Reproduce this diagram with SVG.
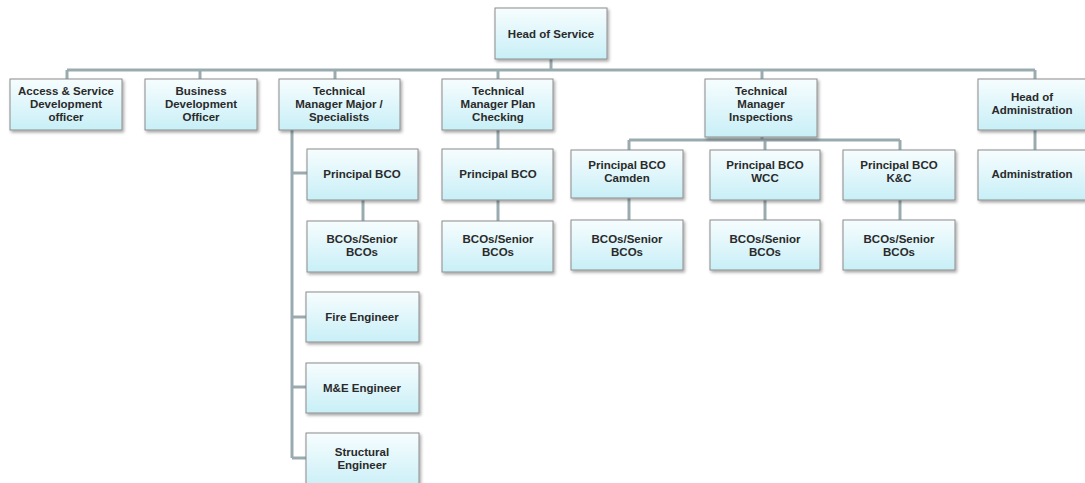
<svg xmlns="http://www.w3.org/2000/svg" width="1085" height="483" viewBox="0 0 1085 483">
<defs>
<linearGradient id="g" x1="0" y1="0" x2="0" y2="1">
<stop offset="0" stop-color="#f7fdfe"/>
<stop offset="1" stop-color="#c8eff7"/>
</linearGradient>
<filter id="sh" x="-10%" y="-10%" width="130%" height="140%">
<feDropShadow dx="1.5" dy="2" stdDeviation="1.5" flood-color="#000" flood-opacity="0.35"/>
</filter>
<style>
.b{fill:url(#g);stroke:#8c8c8c;stroke-width:1;filter:url(#sh)}
.t{font-family:"Liberation Sans",Arial,sans-serif;font-weight:bold;font-size:11.5px;fill:#2a2a2a;text-anchor:middle}
.c{stroke:#9aabb0;stroke-width:3;fill:none}
</style>
</defs>
<rect width="1085" height="483" fill="#ffffff"/>
<g id="connectors">
<path class="c" d="M551 59V70M67 70H1035M67 70V79M200 70V79M335 70V79M498 70V79M762 70V79M1035 70V79"/>
<path class="c" d="M292 130V458M292 173H307M292 317H306M292 387H306M292 458H306M363 200V221"/>
<path class="c" d="M498 130V149M498 200V221"/>
<path class="c" d="M762 137V140M629 140H900M629 140V150M765 140V150M900 140V150M629 198V220M765 200V220M900 200V220"/>
<path class="c" d="M1035 130V150"/>
</g>
<g id="head-of-service"><rect class="b" x="495" y="8" width="112" height="51"/><text class="t" x="551" y="38">Head of Service</text></g>
<g id="access"><rect class="b" x="10" y="79" width="112" height="51"/><text class="t" x="66" y="95">Access &amp; Service</text><text class="t" x="66" y="108">Development</text><text class="t" x="66" y="121">officer</text></g>
<g id="business"><rect class="b" x="145" y="79" width="112" height="51"/><text class="t" x="201" y="95">Business</text><text class="t" x="201" y="108">Development</text><text class="t" x="201" y="121">Officer</text></g>
<g id="tm-major"><rect class="b" x="279" y="79" width="121" height="51"/><text class="t" x="339" y="95">Technical</text><text class="t" x="339" y="108">Manager Major /</text><text class="t" x="339" y="121">Specialists</text></g>
<g id="tm-plan"><rect class="b" x="442" y="79" width="111" height="51"/><text class="t" x="498" y="95">Technical</text><text class="t" x="498" y="108">Manager Plan</text><text class="t" x="498" y="121">Checking</text></g>
<g id="tm-inspections"><rect class="b" x="705" y="79" width="112" height="58"/><text class="t" x="761" y="95">Technical</text><text class="t" x="761" y="108">Manager</text><text class="t" x="761" y="121">Inspections</text></g>
<g id="head-admin"><rect class="b" x="978" y="79" width="110" height="51"/><text class="t" x="1032" y="101">Head of</text><text class="t" x="1032" y="114">Administration</text></g>
<g id="pbco-major"><rect class="b" x="307" y="149" width="111" height="51"/><text class="t" x="362" y="178">Principal BCO</text></g>
<g id="bcos-major"><rect class="b" x="307" y="221" width="111" height="51"/><text class="t" x="362" y="243">BCOs/Senior</text><text class="t" x="362" y="256">BCOs</text></g>
<g id="fire"><rect class="b" x="306" y="292" width="113" height="50"/><text class="t" x="362" y="321">Fire Engineer</text></g>
<g id="me"><rect class="b" x="306" y="363" width="113" height="50"/><text class="t" x="362" y="392">M&amp;E Engineer</text></g>
<g id="structural"><rect class="b" x="306" y="433" width="113" height="56"/><text class="t" x="362" y="456">Structural</text><text class="t" x="362" y="469">Engineer</text></g>
<g id="pbco-plan"><rect class="b" x="442" y="149" width="111" height="51"/><text class="t" x="498" y="178">Principal BCO</text></g>
<g id="bcos-plan"><rect class="b" x="442" y="221" width="111" height="51"/><text class="t" x="498" y="243">BCOs/Senior</text><text class="t" x="498" y="256">BCOs</text></g>
<g id="pbco-camden"><rect class="b" x="571" y="150" width="112" height="48"/><text class="t" x="627" y="169">Principal BCO</text><text class="t" x="627" y="182">Camden</text></g>
<g id="pbco-wcc"><rect class="b" x="710" y="150" width="110" height="50"/><text class="t" x="765" y="169">Principal BCO</text><text class="t" x="765" y="182">WCC</text></g>
<g id="pbco-kc"><rect class="b" x="843" y="150" width="112" height="50"/><text class="t" x="899" y="169">Principal BCO</text><text class="t" x="899" y="182">K&amp;C</text></g>
<g id="admin"><rect class="b" x="978" y="150" width="110" height="50"/><text class="t" x="1032" y="178">Administration</text></g>
<g id="bcos-camden"><rect class="b" x="571" y="220" width="112" height="50"/><text class="t" x="627" y="243">BCOs/Senior</text><text class="t" x="627" y="256">BCOs</text></g>
<g id="bcos-wcc"><rect class="b" x="710" y="220" width="110" height="50"/><text class="t" x="765" y="243">BCOs/Senior</text><text class="t" x="765" y="256">BCOs</text></g>
<g id="bcos-kc"><rect class="b" x="843" y="220" width="112" height="50"/><text class="t" x="899" y="243">BCOs/Senior</text><text class="t" x="899" y="256">BCOs</text></g>
</svg>
